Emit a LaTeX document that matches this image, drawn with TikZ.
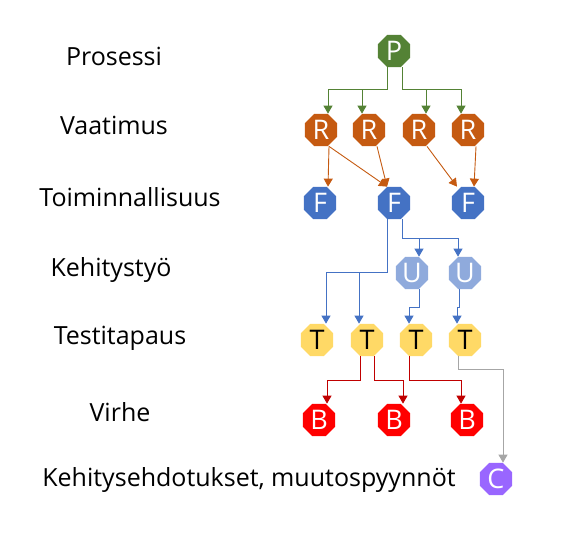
\documentclass[tikz,border=0pt]{standalone}
\usepackage{fontspec}
\setmainfont{Open Sans}
\usetikzlibrary{positioning,arrows.meta,shapes.geometric}
\definecolor{procgreen}{HTML}{548235}
\definecolor{reqorange}{HTML}{C55A11}
\definecolor{funcblue}{HTML}{4472C4}
\definecolor{devblue}{HTML}{8FAADC}
\definecolor{testyellow}{HTML}{FFD966}
\definecolor{bugred}{HTML}{FF0000}
\definecolor{bugline}{HTML}{C00000}
\definecolor{changepurple}{HTML}{9966FF}
\definecolor{linegray}{HTML}{A6A6A6}

\begin{document}
\begin{tikzpicture}[x=1pt,y=-1pt,
    every node/.style={font=\fontsize{25}{30}\selectfont},
    item/.style={regular polygon,regular polygon sides=8,minimum size=35pt,inner sep=0pt,text=white,font=\fontsize{27}{30}\selectfont},
    link/.style={-{Triangle[length=8pt,width=9pt]},line width=0.9pt}]
  \useasboundingbox (0,0) rectangle (562,536);
  \node at (114,56) (lP) {Prosessi};
  \node at (114,125) (lR) {Vaatimus};
  \node at (130,197) (lF) {Toiminnallisuus};
  \node at (111,270) (lU) {Kehitystyö};
  \node at (120,338) (lT) {Testitapaus};
  \node at (120,412) (lB) {Virhe};
  \node at (249,480) (lC) {Kehitysehdotukset, muutospyynnöt};
  \node[item,fill=procgreen] at (394,51) (P) {P};
  \node[item,fill=reqorange] at (321,130) (R1) {R};
  \node[item,fill=reqorange] at (369,130) (R2) {R};
  \node[item,fill=reqorange] at (419,130) (R3) {R};
  \node[item,fill=reqorange] at (468,130) (R4) {R};
  \node[item,fill=funcblue] at (320,203) (F1) {F};
  \node[item,fill=funcblue] at (394,203) (F2) {F};
  \node[item,fill=funcblue] at (468,203) (F3) {F};
  \node[item,fill=devblue] at (412,273) (U1) {U};
  \node[item,fill=devblue] at (465,273) (U2) {U};
  \node[item,fill=testyellow,text=black] at (317,340) (T1) {T};
  \node[item,fill=testyellow,text=black] at (367,340) (T2) {T};
  \node[item,fill=testyellow,text=black] at (416,340) (T3) {T};
  \node[item,fill=testyellow,text=black] at (465,340) (T4) {T};
  \node[item,fill=bugred] at (319,420) (B1) {B};
  \node[item,fill=bugred] at (394,420) (B2) {B};
  \node[item,fill=bugred] at (467,420) (B3) {B};
  \node[item,fill=changepurple] at (496,479) (C) {C};
  \draw[link,procgreen] ([xshift=-7pt]P.south) -- ++(0,22) -| ([xshift=7pt]R1.north);
  \draw[link,procgreen] ([xshift=-7pt]P.south) -- ++(0,22) -| ([xshift=-7pt]R2.north);
  \draw[link,procgreen] ([xshift=8pt]P.south) -- ++(0,22) -| ([xshift=7pt]R3.north);
  \draw[link,procgreen] ([xshift=8pt]P.south) -- ++(0,22) -| ([xshift=-7pt]R4.north);
  \draw[link,reqorange] ([xshift=8pt]R1.south) -- ([xshift=8pt]F1.north);
  \draw[link,reqorange] ([xshift=8pt]R1.south) -- ([xshift=-7pt]F2.north);
  \draw[link,reqorange] ([xshift=8pt]R2.south) -- ([xshift=-7pt]F2.north);
  \draw[link,reqorange] ([xshift=8pt]R3.south) -- ([xshift=-11pt]F3.north);
  \draw[link,reqorange] ([xshift=8pt]R4.south) -- ([xshift=6pt]F3.north);
  \draw[link,funcblue] ([xshift=-7pt]F2.south) -- ++(0,53) -| ([xshift=9pt]T1.north);
  \draw[link,funcblue] ([xshift=-7pt]F2.south) -- ++(0,53) -| ([xshift=-8pt]T2.north);
  \draw[link,funcblue] ([xshift=8pt]F2.south) -- ++(0,19) -| ([xshift=7pt]U1.north);
  \draw[link,funcblue] ([xshift=8pt]F2.south) -- ++(0,19) -| ([xshift=-7pt]U2.north);
  \draw[link,funcblue] ([xshift=7pt]U1.south) -- ++(0,18) -| ([xshift=-7pt]T3.north);
  \draw[link,funcblue] ([xshift=-6pt]U2.south) -- ++(0,18) -| ([xshift=-8pt]T4.north);
  \draw[link,bugline] ([xshift=-7pt]T2.south) -- ++(0,24) -| ([xshift=8pt]B1.north);
  \draw[link,bugline] ([xshift=7pt]T2.south) -- ++(0,24) -| ([xshift=9pt]B2.north);
  \draw[link,bugline] ([xshift=-7pt]T3.south) -- ++(0,24) -| ([xshift=-6pt]B3.north);
  \draw[link,linegray] ([xshift=-7pt]T4.south) -- ++(0,13) -| ([xshift=7pt]C.north);
\end{tikzpicture}
\end{document}
